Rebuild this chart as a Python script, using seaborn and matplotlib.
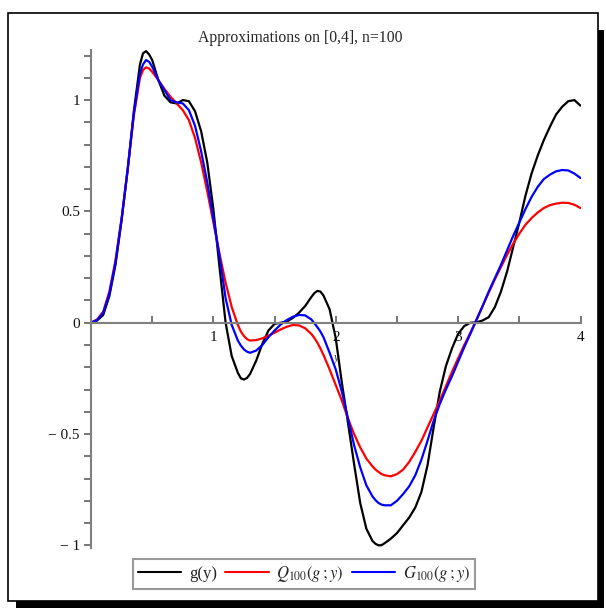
import matplotlib
matplotlib.use("Agg")
import matplotlib.pyplot as plt
import seaborn as sns
import pandas as pd
from matplotlib.patches import Rectangle
from matplotlib.ticker import MultipleLocator, FixedLocator

# values
x_vals = [0.00, 0.05, 0.10, 0.15, 0.20, 0.25, 0.30, 0.35, 0.40, 0.425, 0.45, 0.475,
          0.50, 0.55, 0.60, 0.65, 0.70, 0.75, 0.80, 0.85, 0.90, 0.95,
          1.00, 1.05, 1.10, 1.15, 1.20, 1.225, 1.25, 1.275, 1.30, 1.35, 1.40, 1.45,
          1.50, 1.55, 1.60, 1.65, 1.70, 1.75, 1.80, 1.825, 1.85, 1.875, 1.90, 1.95,
          2.00, 2.05, 2.10, 2.15, 2.20, 2.25, 2.30, 2.325, 2.35, 2.375, 2.40, 2.45,
          2.50, 2.55, 2.60, 2.65, 2.70, 2.75, 2.80, 2.85, 2.90, 2.95,
          3.00, 3.05, 3.10, 3.15, 3.20, 3.25, 3.30, 3.35, 3.40, 3.45,
          3.50, 3.55, 3.60, 3.65, 3.70, 3.75, 3.80, 3.85, 3.90, 3.95,
          4.00]

g_vals = [0.0, 0.01, 0.035, 0.12, 0.26, 0.46, 0.69, 0.95, 1.16, 1.21, 1.22, 1.205,
          1.18, 1.09, 1.02, 0.99, 0.985, 1.0, 0.995, 0.95, 0.86, 0.72,
          0.51, 0.25, 0.0, -0.15, -0.225, -0.25, -0.255, -0.248, -0.23, -0.17, -0.095, -0.035,
          -0.005, 0.0, 0.005, 0.022, 0.045, 0.075, 0.115, 0.133, 0.143, 0.14, 0.122, 0.06,
          -0.07, -0.27, -0.45, -0.635, -0.81, -0.925, -0.98, -0.993, -1.0, -0.999, -0.99, -0.97,
          -0.945, -0.91, -0.875, -0.83, -0.76, -0.64, -0.47, -0.31, -0.195, -0.115,
          -0.05, -0.015, 0.0, 0.002, 0.01, 0.025, 0.07, 0.14, 0.23, 0.34,
          0.45, 0.57, 0.67, 0.75, 0.82, 0.88, 0.935, 0.97, 0.995, 1.0,
          0.975]

q_vals = [0.0, 0.015, 0.05, 0.14, 0.28, 0.47, 0.69, 0.93, 1.10, 1.135, 1.147, 1.142,
          1.127, 1.09, 1.05, 1.015, 0.985, 0.955, 0.91, 0.83, 0.72, 0.59,
          0.45, 0.31, 0.18, 0.07, -0.01, -0.04, -0.06, -0.074, -0.08, -0.078, -0.07, -0.058,
          -0.045, -0.03, -0.018, -0.01, -0.012, -0.025, -0.05, -0.068, -0.09, -0.116, -0.145, -0.21,
          -0.28, -0.35, -0.43, -0.50, -0.56, -0.61, -0.645, -0.66, -0.67, -0.68, -0.685, -0.69,
          -0.68, -0.66, -0.625, -0.58, -0.53, -0.47, -0.41, -0.35, -0.285, -0.22,
          -0.16, -0.10, -0.045, 0.015, 0.075, 0.135, 0.195, 0.25, 0.305, 0.355,
          0.40, 0.44, 0.47, 0.495, 0.515, 0.528, 0.535, 0.539, 0.538, 0.53,
          0.515]

gg_vals = [0.0, 0.012, 0.045, 0.13, 0.27, 0.465, 0.69, 0.94, 1.12, 1.16, 1.18, 1.172,
           1.15, 1.09, 1.045, 1.0, 0.99, 0.985, 0.955, 0.885, 0.77, 0.63,
           0.47, 0.30, 0.11, -0.01, -0.08, -0.103, -0.12, -0.13, -0.135, -0.125, -0.10, -0.065,
           -0.035, -0.008, 0.012, 0.027, 0.035, 0.033, 0.015, -0.002, -0.02, -0.04, -0.065, -0.135,
           -0.21, -0.31, -0.43, -0.55, -0.65, -0.73, -0.78, -0.797, -0.81, -0.817, -0.82, -0.82,
           -0.80, -0.77, -0.735, -0.685, -0.615, -0.53, -0.44, -0.365, -0.30, -0.24,
           -0.175, -0.11, -0.05, 0.012, 0.075, 0.14, 0.20, 0.26, 0.325, 0.39,
           0.45, 0.51, 0.565, 0.61, 0.645, 0.665, 0.68, 0.686, 0.684, 0.67,
           0.65]

labels = ["g(y)", r"$Q_{100}(g\,;y)$", r"$G_{100}(g\,;y)$"]
colors = ["black", "red", "blue"]
x_ticks = [1, 2, 3, 4]
y_ticks = [-1, -0.5, 0, 0.5, 1]
y_ticklabels = ["\u2212 1", "\u2212 0.5", "0", "0.5", "1"]

df = pd.concat([
    pd.DataFrame({"x": x_vals, "val": v, "series": lab})
    for v, lab in zip([g_vals, q_vals, gg_vals], labels)
])

sns.set_theme(style="white")
plt.rcParams["font.family"] = ["Liberation Serif", "DejaVu Serif"]
plt.rcParams["mathtext.fontset"] = "stix"

W, H = 606, 611
fig = plt.figure(figsize=(W / 100, H / 100), dpi=100)

# framed box with drop shadow
fl, fr, ft, fb = 7.5, 598, 12.5, 601
fig.patches.append(Rectangle(((fl + 8) / W, 1 - (fb + 7) / H), (fr + 6 - fl - 8) / W, (fb + 7 - 30) / H,
                             transform=fig.transFigure, facecolor="black", edgecolor="none", zorder=-2))
fig.patches.append(Rectangle((fl / W, 1 - fb / H), (fr - fl) / W, (fb - ft) / H,
                             transform=fig.transFigure, facecolor="white", edgecolor="black",
                             linewidth=1.2, zorder=-1))

y_top, y_bot = 1.225, -1.01
py_top, py_bot = 50, 547.6
ax = fig.add_axes([91 / W, 1 - py_bot / H, 489.5 / W, (py_bot - py_top) / H])
ax.set_facecolor("none")

sns.lineplot(data=df, x="x", y="val", hue="series", palette=dict(zip(labels, colors)),
             sort=False, estimator=None, linewidth=1.6, ax=ax)
for line in ax.lines:
    line.set_solid_joinstyle("round")

ax.set_xlim(0, 4)
ax.set_ylim(y_bot, y_top)
for s in ["top", "right"]:
    ax.spines[s].set_visible(False)
for s in ["left", "bottom"]:
    ax.spines[s].set_position(("data", 0))
    ax.spines[s].set_color("#808080")
    ax.spines[s].set_linewidth(1.5)

ax.xaxis.set_major_locator(FixedLocator(x_ticks))
ax.xaxis.set_minor_locator(FixedLocator([0.5, 1.5, 2.5, 3.5]))
ax.yaxis.set_major_locator(FixedLocator(y_ticks))
ax.yaxis.set_minor_locator(MultipleLocator(0.1))
ax.set_yticklabels(y_ticklabels)
ax.tick_params(axis="x", which="both", direction="in", length=5, width=1.2, color="#606060",
               bottom=True, pad=6, labelsize=11, labelcolor="#111111")
ax.tick_params(axis="y", which="both", direction="out", length=5, width=1.2, color="#606060",
               left=True, pad=3, labelsize=11, labelcolor="#111111")

# axis label "y" sits just under the tick "2"
ax.set_xlabel("")
ax.set_ylabel("")
ax.text(2.01, -0.158, "y", ha="center", va="center", fontsize=8.5, style="italic",
        color="#333333", zorder=1)

fig.text(300 / W, 1 - 38 / H, "Approximations on [0,4], n=100", ha="center", va="center", fontsize=11.3)

leg = ax.legend(loc="center", bbox_to_anchor=(304 / W, 1 - 573.5 / H), bbox_transform=fig.transFigure,
                ncol=3, frameon=True, fancybox=False, fontsize=12, handlelength=2.6,
                handletextpad=0.45, columnspacing=0.5, borderpad=0.3, borderaxespad=0)
leg.get_frame().set_edgecolor("#808080")
leg.get_frame().set_linewidth(1.5)
for line in leg.get_lines():
    line.set_linewidth(1.5)

fig.savefig("out.png", dpi=100)
